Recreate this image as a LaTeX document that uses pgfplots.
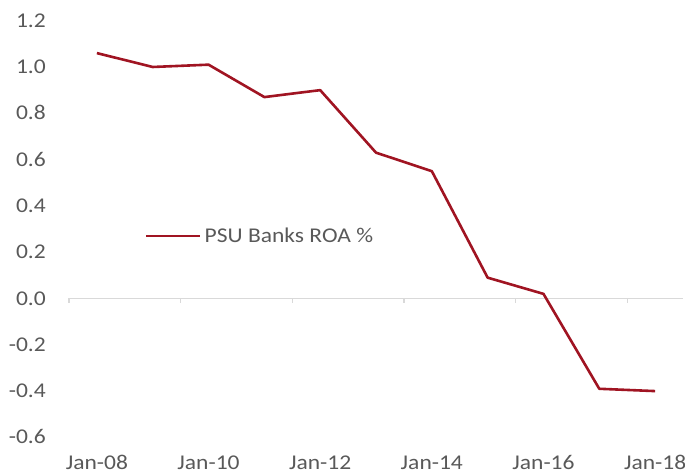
\documentclass[border=0pt]{standalone}
\usepackage{pgfplots}
\pgfplotsset{compat=1.18}
\usepackage{fontspec}
\setmainfont{Carlito}[FakeStretch=1.12]
\definecolor{txt}{RGB}{89,89,89}
\definecolor{ln}{RGB}{160,20,34}
\definecolor{zl}{RGB}{217,217,217}
\begin{document}
\begin{tikzpicture}[x=1bp,y=1bp]
\begin{axis}[
  at={(69bp,38.6bp)}, anchor=south west,
  scale only axis, width=614bp, height=416.7bp,
  xmin=0, xmax=11, ymin=-0.6, ymax=1.2,
  axis line style={draw=none},
  xtick={0.5,2.5,4.5,6.5,8.5,10.5},
  xticklabels={Jan-08,Jan-10,Jan-12,Jan-14,Jan-16,Jan-18},
  ytick={-0.6,-0.4,-0.2,0,0.2,0.4,0.6,0.8,1.0,1.2},
  yticklabel={\pgfmathprintnumber[fixed,fixed zerofill,precision=1]{\tick}},
  /pgf/number format/assume math mode=true,
  major tick length=0pt,
  tick style={draw=none},
  tick label style={font=\fontsize{21bp}{25bp}\selectfont, text=txt, inner sep=0pt},
  yticklabel style={anchor=base east, xshift=-23bp, yshift=-6.6bp},
  xticklabel style={anchor=base, yshift=-32.6bp},
  clip=false,
  legend style={at={(axis cs:1.36,0.27)}, anchor=west, draw=none, fill=none,
    font=\fontsize{21bp}{25bp}\selectfont, text=txt, inner sep=0pt,
    nodes={inner sep=3bp}},
  legend image code/.code={\draw[#1] (0bp,0bp) -- (54bp,0bp);},
]
\draw[zl, line width=1.2bp] (axis cs:0,0) -- (axis cs:11,0);
\pgfplotsinvokeforeach{0,2,4,6,8,10}{
  \draw[zl, line width=1.2bp] (axis cs:#1,0) -- ([yshift=-5bp]axis cs:#1,0);
}
\addplot[ln, line width=2.6bp, line join=round] coordinates {
  (0.5,1.06) (1.5,1.00) (2.5,1.01) (3.5,0.87) (4.5,0.90) (5.5,0.63)
  (6.5,0.55) (7.5,0.09) (8.5,0.02) (9.5,-0.39) (10.5,-0.40)
};
\addlegendentry{PSU Banks ROA \%}
\end{axis}
\pgfresetboundingbox
\useasboundingbox (0,0) rectangle (685,476);
\end{tikzpicture}
\end{document}
